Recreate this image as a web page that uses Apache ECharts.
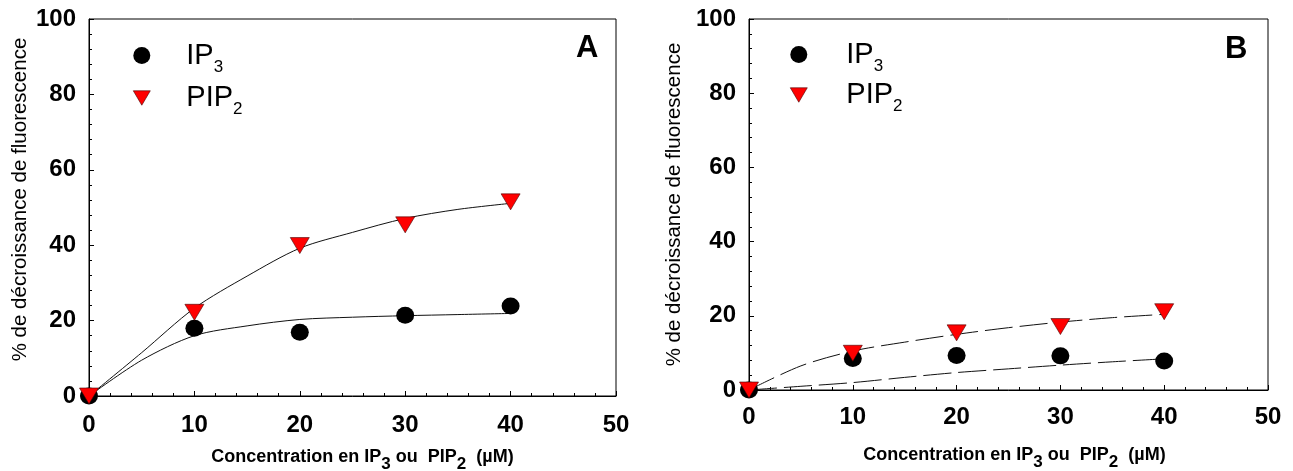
<!DOCTYPE html>
<html>
<head>
<meta charset="utf-8">
<script src="https://cdn.jsdelivr.net/npm/echarts@6/dist/echarts.min.js"></script>
<style>html,body{margin:0;padding:0;background:#fff}#c{width:1293px;height:471px}</style>
</head>
<body>
<div id="c"></div>
<script>
// ---- data ----
const concentrations = [0, 10, 20, 30, 40];
const ip3A = [0, 18.0, 16.9, 21.4, 23.9];
const pip2A = [0, 22.2, 39.9, 45.4, 51.5];
const ip3B = [0, 8.5, 9.3, 9.2, 7.8];
const pip2B = [0, 9.9, 15.4, 17.1, 21.1];

const fitX = [0, 5, 10, 15, 20, 25, 30, 35, 40];
const fitIp3A = [0, 9.5, 16.0, 18.6, 20.3, 20.9, 21.3, 21.6, 21.9];
const fitPip2A = [0, 11.5, 23.3, 31.8, 39.2, 43.4, 47.1, 49.5, 51.1];
const fitIp3B = [0, 1.0, 2.0, 3.4, 4.7, 5.7, 6.7, 7.6, 8.4];
const fitPip2B = [0, 6.5, 10.5, 12.9, 15.0, 16.8, 18.3, 19.5, 20.4];

const xTicks = [0, 10, 20, 30, 40, 50];
const yTicks = [0, 20, 40, 60, 80, 100];
const panelLetters = ['A', 'B'];
const seriesNames = ['IP3', 'PIP2'];

// ---- styling ----
const NARROW = '"Liberation Sans Narrow", "Liberation Sans", Arial, sans-serif';
const SANS = '"Liberation Sans", Arial, sans-serif';
const TRI = 'path://M0,0 L20,0 L10,17 Z';

const pairs = (xs, ys) => xs.map((x, i) => [x, ys[i]]);

function xAxisDef(gi) {
  return {
    gridIndex: gi, type: 'value', min: xTicks[0], max: xTicks[xTicks.length - 1], interval: 10,
    axisLine: { show: true, onZero: false, lineStyle: { color: '#000', width: 1 } },
    axisTick: { show: true, inside: true, length: 5, lineStyle: { color: '#000' } },
    minorTick: { show: true, splitNumber: 5, length: 3, lineStyle: { color: '#000' } },
    splitLine: { show: false },
    axisLabel: { margin: gi === 0 ? 17 : 15, fontFamily: NARROW, fontWeight: 'bold', fontSize: 24, color: '#000' },
    name: '{b|Concentration en IP}{s|3}{b| ou  PIP}{s|2}{b|  (µM)}',
    nameLocation: 'middle', nameGap: gi === 0 ? 45 : 49,
    nameTextStyle: {
      padding: [0, 0, 0, gi === 0 ? 20 : 12],
      rich: {
        b: { fontFamily: NARROW, fontWeight: 'bold', fontSize: 18, color: '#000', lineHeight: 32, verticalAlign: 'middle' },
        s: { fontFamily: NARROW, fontWeight: 'bold', fontSize: 17, color: '#000', lineHeight: 32, verticalAlign: 'bottom' }
      }
    }
  };
}
function yAxisDef(gi) {
  return {
    gridIndex: gi, type: 'value', min: yTicks[0], max: yTicks[yTicks.length - 1], interval: 20,
    axisLine: { show: true, onZero: false, lineStyle: { color: '#000', width: 1 } },
    axisTick: { show: true, inside: true, length: 5, lineStyle: { color: '#000' } },
    minorTick: { show: true, splitNumber: 5, length: 3, lineStyle: { color: '#000' } },
    splitLine: { show: false },
    axisLabel: { margin: 13, fontFamily: NARROW, fontWeight: 'bold', fontSize: 24, color: '#000' },
    name: '% de décroissance de fluorescence',
    nameLocation: 'middle', nameRotate: 90, nameGap: gi === 0 ? 58 : 64,
    nameTextStyle: { fontFamily: SANS, fontSize: 20.5, color: '#000', padding: gi === 0 ? [0, 0, 0, 16] : [0, 0, 0, 0] }
  };
}
function legendDef(left, top, gap, pad) {
  return {
    orient: 'vertical', left: left, top: top, itemGap: gap,
    itemWidth: 17, itemHeight: 17,
    data: [
      { name: seriesNames[0], icon: 'circle', itemStyle: { color: '#000' } },
      { name: seriesNames[1], icon: TRI, itemStyle: { color: '#ff0000', borderColor: '#400', borderWidth: 0.6 } }
    ],
    selectedMode: false,
    formatter: n => n === 'IP3' ? '{a|IP}{s|3}' : '{a|PIP}{s|2}',
    textStyle: {
      padding: [0, 0, 0, pad],
      rich: {
        a: { fontFamily: SANS, fontSize: 29, color: '#000', lineHeight: 40, verticalAlign: 'middle' },
        s: { fontFamily: SANS, fontSize: 17, color: '#000', lineHeight: 40, verticalAlign: 'bottom' }
      }
    }
  };
}
function fitSeries(gi, ys) {
  return {
    type: 'line', name: 'fit', xAxisIndex: gi, yAxisIndex: gi, data: pairs(fitX, ys),
    showSymbol: false, symbol: 'none', smooth: 0.3, silent: true, z: 2,
    lineStyle: { color: '#111', width: 1, type: gi === 1 ? [28, 7] : 'solid' }
  };
}
function ipSeries(gi, ys) {
  return {
    type: 'scatter', name: seriesNames[0], xAxisIndex: gi, yAxisIndex: gi, data: pairs(concentrations, ys),
    symbol: 'circle', symbolSize: [18, 17], itemStyle: { color: '#000', opacity: 1 }, z: 3
  };
}
function pipSeries(gi, ys) {
  return {
    type: 'scatter', name: seriesNames[1], xAxisIndex: gi, yAxisIndex: gi, data: pairs(concentrations, ys),
    symbol: TRI, symbolSize: [19, 16], itemStyle: { color: '#ff0000', borderColor: '#400', borderWidth: 0.6, opacity: 1 }, z: 4
  };
}

const chart = echarts.init(document.getElementById('c'), null, { renderer: 'canvas' });
chart.setOption({
  animation: false,
  backgroundColor: '#fff',
  grid: [
    { left: 89, top: 19, width: 527, height: 377, containLabel: false, outerBoundsMode: 'none', show: true, borderColor: '#000', borderWidth: 1, backgroundColor: 'transparent' },
    { left: 749, top: 19, width: 519, height: 371, containLabel: false, outerBoundsMode: 'none', show: true, borderColor: '#000', borderWidth: 1, backgroundColor: 'transparent' }
  ],
  xAxis: [xAxisDef(0), xAxisDef(1)],
  yAxis: [yAxisDef(0), yAxisDef(1)],
  legend: [legendDef(128, 36, 8, 31), legendDef(785, 35, 6, 34)],
  graphic: [
    { type: 'text', left: 576, top: 33, style: { text: panelLetters[0], font: 'bold 31px ' + SANS, fill: '#000' } },
    { type: 'text', left: 1225, top: 34, style: { text: panelLetters[1], font: 'bold 31px ' + SANS, fill: '#000' } }
  ],
  series: [
    fitSeries(0, fitIp3A), fitSeries(0, fitPip2A),
    ipSeries(0, ip3A), pipSeries(0, pip2A),
    fitSeries(1, fitIp3B), fitSeries(1, fitPip2B),
    ipSeries(1, ip3B), pipSeries(1, pip2B)
  ]
});
</script>
</body>
</html>
